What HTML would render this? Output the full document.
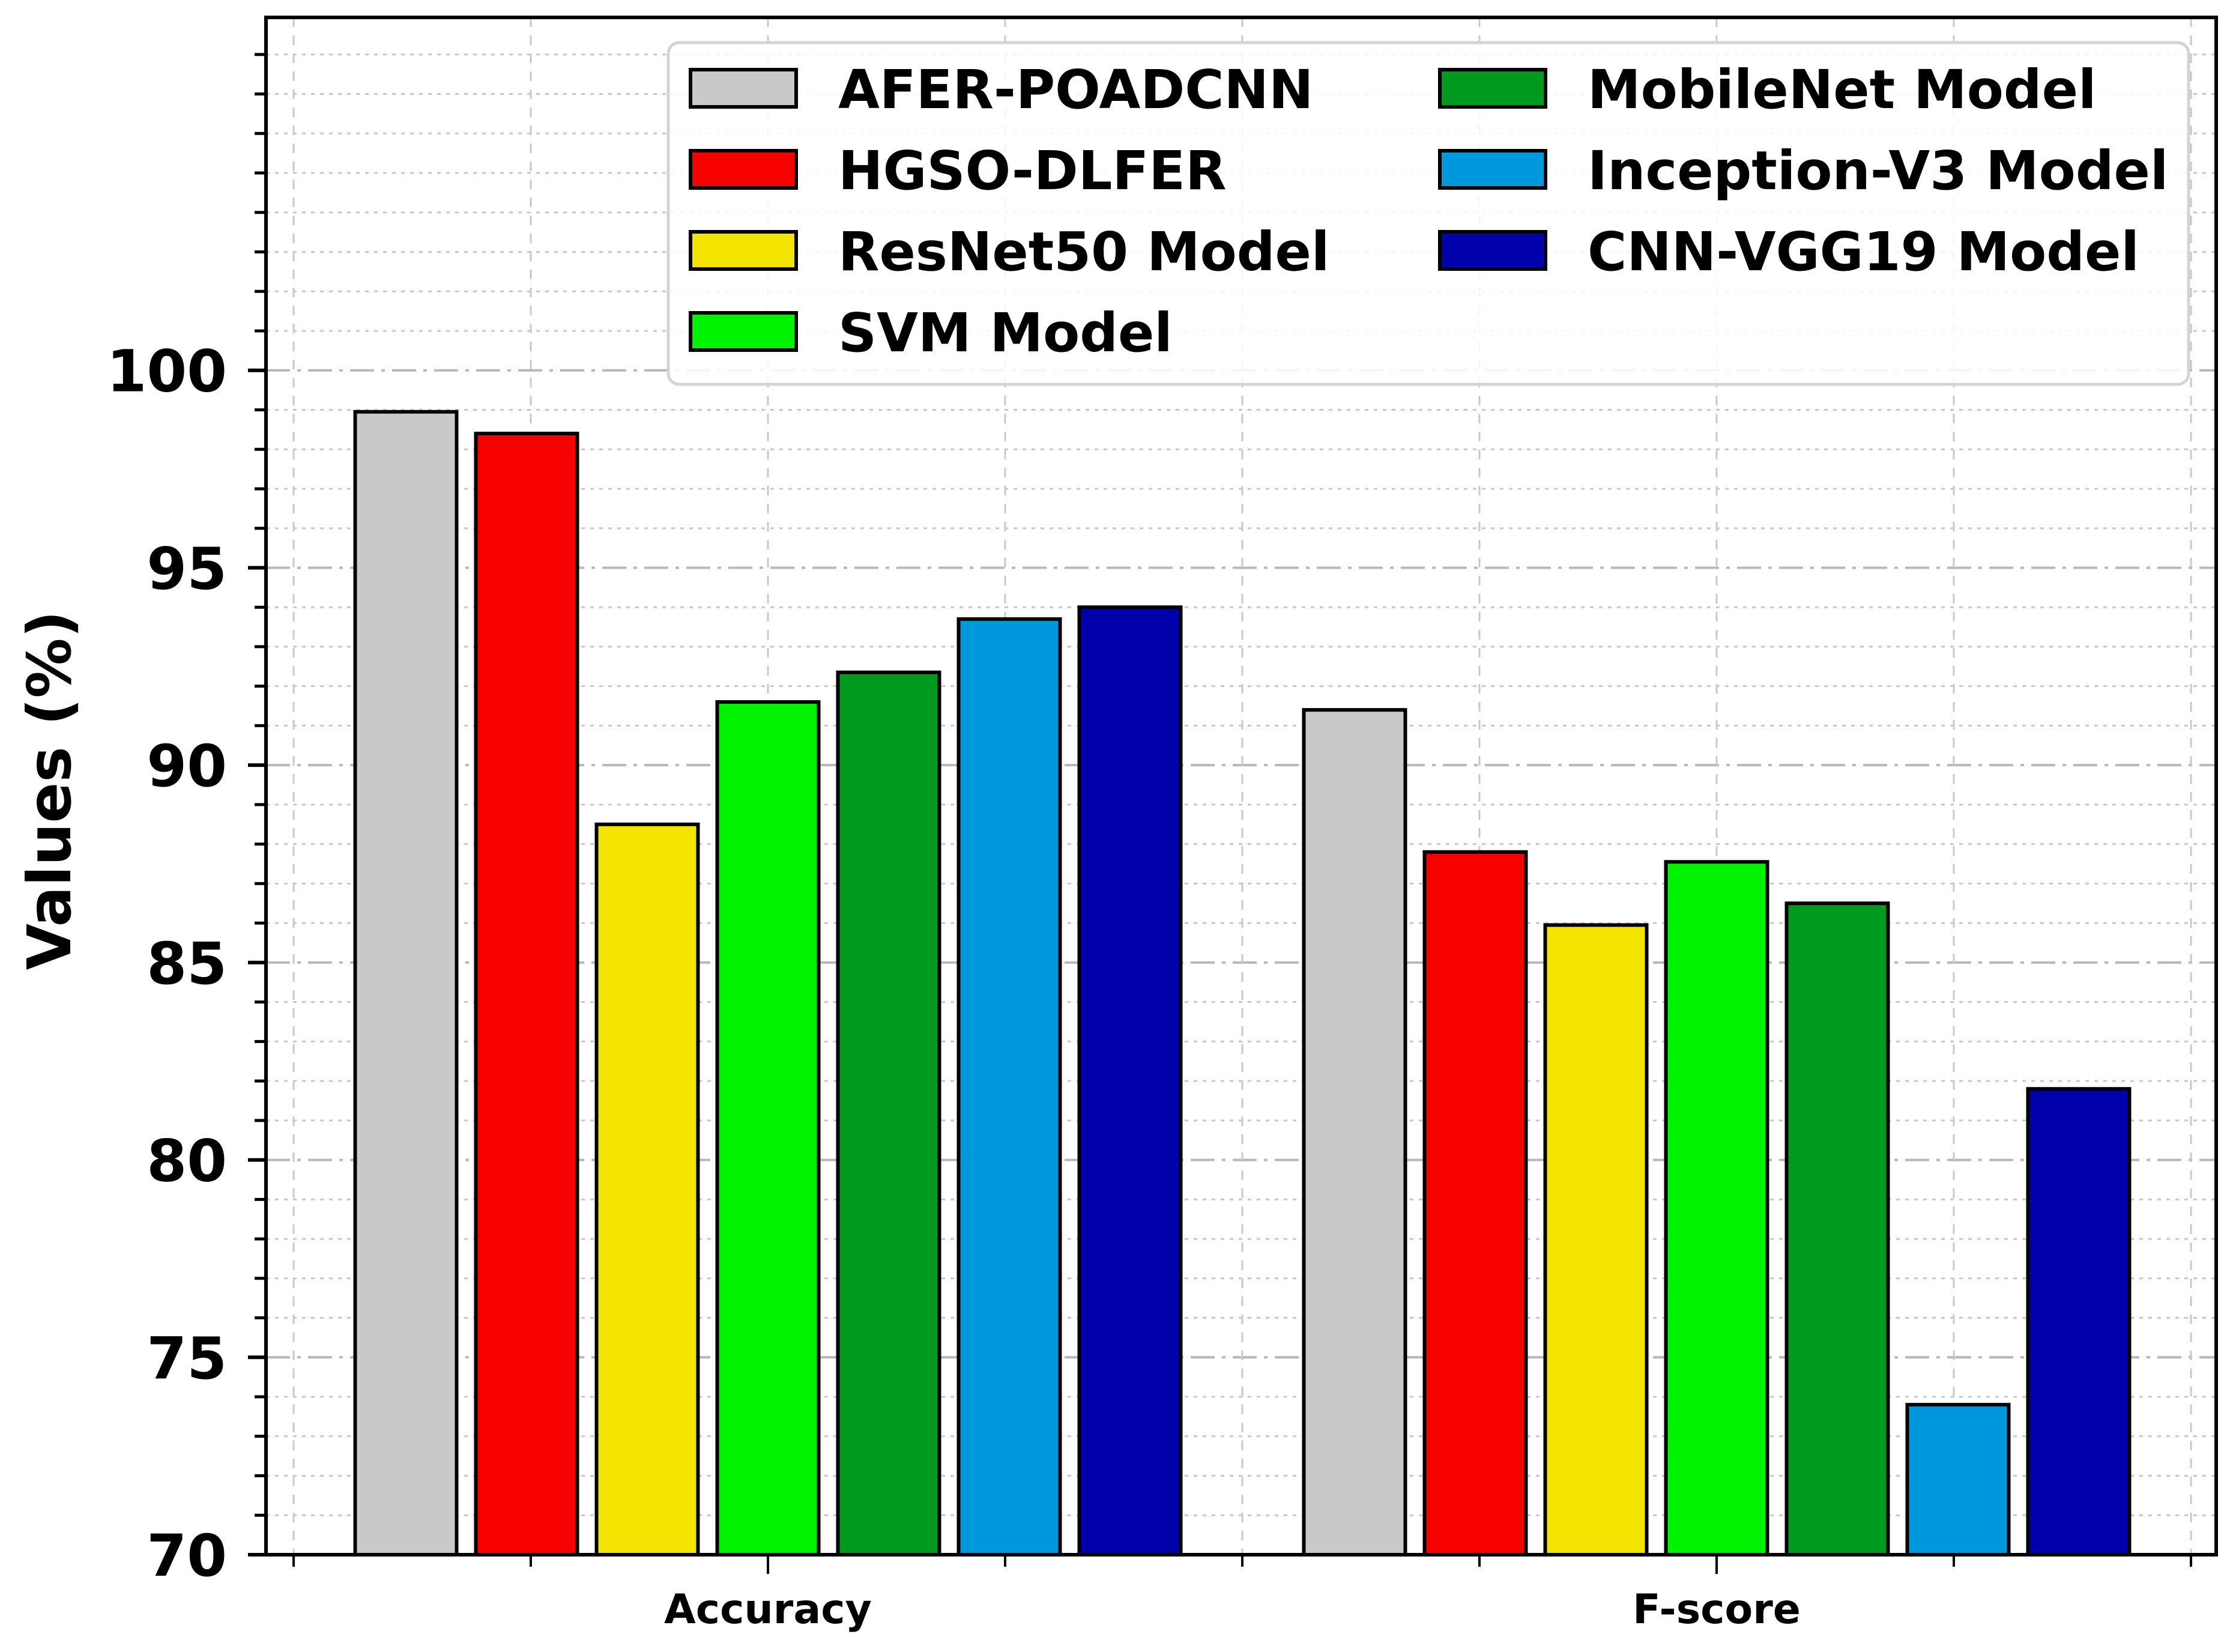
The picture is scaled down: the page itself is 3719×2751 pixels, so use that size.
<!DOCTYPE html>
<html><head><meta charset="utf-8"><style>
html,body{margin:0;padding:0;background:#fff;}
svg{display:block;font-family:"DejaVu Sans","Liberation Sans",sans-serif;font-weight:bold;}
</style></head><body>
<svg id="chart" width="3719" height="2751" viewBox="0 0 3719 2751" xmlns="http://www.w3.org/2000/svg">
<g id="grid"></g>
<g id="bars"></g>
<g id="axes"></g>
<g id="legend"></g>
</svg>
<script>
const categories = ["Accuracy", "F-score"];
const seriesNames = ["AFER-POADCNN","HGSO-DLFER","ResNet50 Model","SVM Model","MobileNet Model","Inception-V3 Model","CNN-VGG19 Model"];
const seriesColors = ["#c9c9c9","#f60000","#f2e300","#00f200","#009a1e","#0098dc","#0000ab"];
const accuracyValues = [98.95, 98.4, 88.5, 91.6, 92.35, 93.7, 94.0];
const fscoreValues = [91.4, 87.8, 85.95, 87.55, 86.5, 73.8, 81.8];
const yTicks = [70, 75, 80, 85, 90, 95, 100];
const yMin = 70, yMax = 108.94;

const NS = "http://www.w3.org/2000/svg";
const L = 443, R = 3691, T = 29, B = 2589;
const y = v => B - (v - yMin) / (yMax - yMin) * (B - T);
const catX = i => 1279 + i * 1580;
const pitch = 201, bw = 169;
function mk(tag, attrs, parent) {
  const e = document.createElementNS(NS, tag);
  for (const k in attrs) e.setAttribute(k, attrs[k]);
  parent.appendChild(e);
  return e;
}
const grid = document.getElementById('grid');
const bars = document.getElementById('bars');
const axes = document.getElementById('axes');
const legend = document.getElementById('legend');

for (let v = yMin; v <= Math.floor(yMax); v++) {
  const major = yTicks.includes(v);
  const ln = mk('line', {x1: L, x2: R, y1: y(v), y2: y(v), stroke: major ? '#b8b8b8' : '#c8c8c8', 'stroke-width': major ? 4 : 3, 'stroke-dasharray': major ? '40 12 6 12' : '6 9'}, grid);
  
  
  const tk = mk('line', {x1: L - (major ? 30 : 19), x2: L, y1: y(v), y2: y(v), stroke: '#000', 'stroke-width': major ? 6 : 5}, axes);
  
  
}
for (let k = -2; k <= 6; k++) {
  const xx = catX(0) + k * 395;
  const ln = mk('line', {x1: xx, x2: xx, y1: T, y2: B, stroke: '#c8c8c8', 'stroke-width': 3, 'stroke-dasharray': '16 14'}, grid);
  
  
  const major = (k === 0 || k === 4);
  const tk = mk('line', {x1: xx, x2: xx, y1: B, y2: B + (major ? 32 : 20), stroke: '#000', 'stroke-width': 4}, axes);
  
  
}
const allValues = [accuracyValues, fscoreValues];
allValues.forEach((vals, ci) => {
  vals.forEach((v, si) => {
    const cx = catX(ci) + (si - 3) * pitch;
    const r = mk('rect', {x: cx - bw / 2, y: y(v), width: bw, height: B - y(v), fill: seriesColors[si], stroke: '#000', 'stroke-width': 6}, bars);
    
    
  });
});
const frame = mk('rect', {x: L, y: T, width: R - L, height: B - T, fill: 'none', stroke: '#000', 'stroke-width': 6}, axes);


yTicks.forEach(v => {
  const t = mk('text', {x: 378, y: y(v) + 35, 'text-anchor': 'end', 'font-size': 96}, axes);
  t.textContent = v;
  
  
});
categories.forEach((c, i) => {
  const t = mk('text', {x: catX(i), y: 2703, 'text-anchor': 'middle', 'font-size': 68}, axes);
  t.textContent = c;
  
  
});
const yt = mk('text', {x: 0, y: 0, 'text-anchor': 'middle', 'font-size': 100, transform: 'translate(117,1316) rotate(-90)'}, axes);
yt.textContent = 'Values (%)';


const lb = mk('rect', {x: 1113, y: 71, width: 2532, height: 569, rx: 18, fill: 'rgba(255,255,255,0.85)', stroke: '#d4d4d4', 'stroke-width': 5}, legend);


const rowY = [147, 282, 417, 552];
seriesNames.forEach((n, i) => {
  const col = i < 4 ? 0 : 1, row = i < 4 ? i : i - 4;
  const px = col ? 2398 : 1150, tx = col ? 2644 : 1396;
  const p = mk('rect', {x: px, y: rowY[row] - 31, width: 176, height: 62, fill: seriesColors[i], stroke: '#000', 'stroke-width': 6}, legend);
  
  
  const t = mk('text', {x: tx, y: rowY[row] + 33, 'font-size': 89}, legend);
  t.textContent = n;
  
  
});
</script>
</body></html>
